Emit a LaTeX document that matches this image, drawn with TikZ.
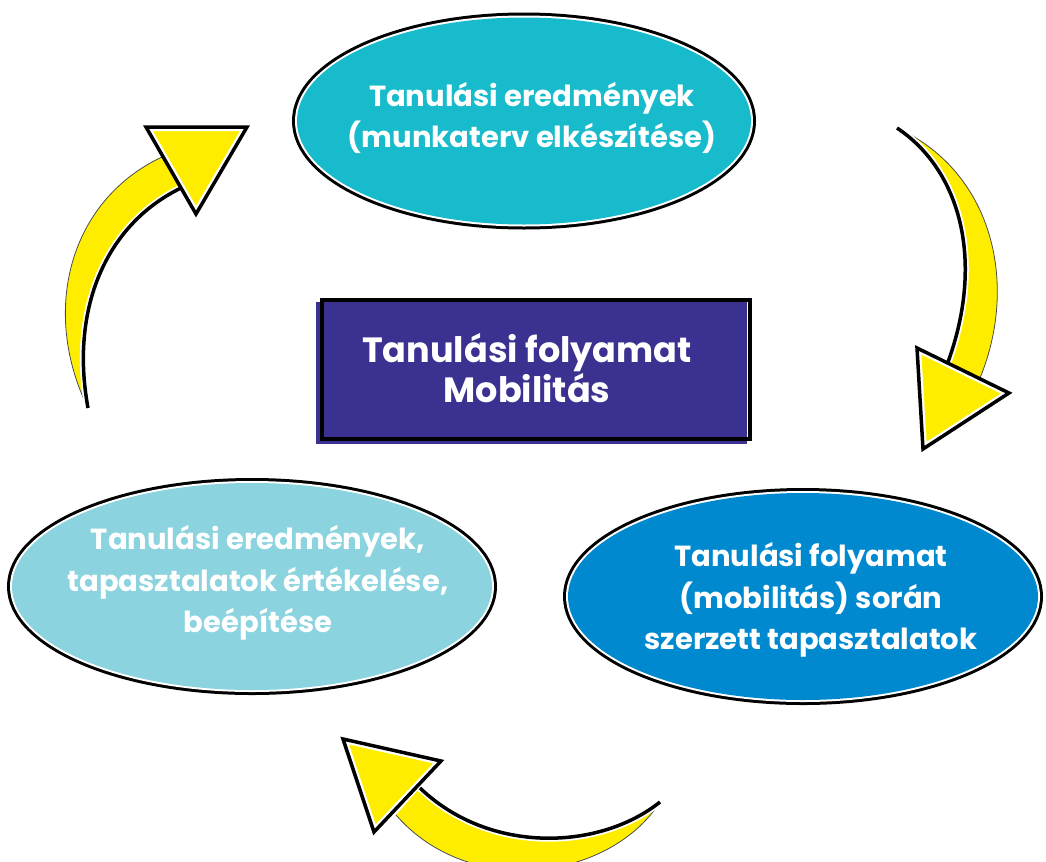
\documentclass[tikz,border=0pt]{standalone}
\usepackage{fontspec}
\setmainfont{Poppins}
\usetikzlibrary{shapes.geometric}
\definecolor{topc}{HTML}{17BBCB}
\definecolor{leftc}{HTML}{8BD3DE}
\definecolor{rightc}{HTML}{0089CF}
\definecolor{boxc}{HTML}{3A3191}
\definecolor{arry}{HTML}{FFED00}
\newcommand\yhead[3]{%
  \fill[arry] (#1) -- (#2) -- (#3) -- cycle;
  \begin{scope}\clip (#1) -- (#2) -- (#3) -- cycle;
  \draw[white, line width=8*0.75pt] (#1) -- (#2) -- (#3) -- cycle;\end{scope}
  \draw[black, line width=3.5*0.75pt, line join=miter] (#1) -- (#2) -- (#3) -- cycle;}
\newcommand\yshaft[7]{%
  \fill[arry] (#1) .. controls (#2) and (#3) .. (#4) -- (#5) .. controls (#6) and (#7) .. (#1) -- cycle;
  \draw[black!70, line width=0.8*0.75pt] (#1) .. controls (#2) and (#3) .. (#4);
  \draw[white, line width=7*0.75pt] (#5) .. controls (#6) and (#7) .. (#1);
  \draw[black, line width=3.5*0.75pt] (#5) .. controls (#6) and (#7) .. (#1);}
\begin{document}
\begin{tikzpicture}[x=0.75pt,y=-0.75pt,
  bubble/.style={ellipse, inner sep=0pt,
    preaction={draw=black, line width=10*0.75pt},
    preaction={draw=white, line width=4*0.75pt}},
  txt/.style={text=white, align=center, font=\bfseries\fontsize{21.8}{31}\selectfont, inner sep=0pt},
  boxtxt/.style={text=white, align=center, font=\bfseries\fontsize{26.3}{26.25}\selectfont, inner sep=0pt}]
\useasboundingbox (0,0) rectangle (1046,861);

% ellipses
\node[bubble, fill=topc, minimum width=454*0.75pt, minimum height=207*0.75pt] (topb) at (524,121) {};
\node[bubble, fill=leftc, minimum width=480*0.75pt, minimum height=207*0.75pt] (leftb) at (252,586.5) {};
\node[bubble, fill=rightc, minimum width=470*0.75pt, minimum height=207*0.75pt] (rightb) at (803,596.5) {};

\node[txt] (toplbl) at (532,118) {Tanulási eredmények\\(munkaterv elkészítése)};
\node[txt] (leftlbl) at (258,583) {Tanulási eredmények,\\tapasztalatok értékelése,\\beépítése};
\node[txt] (rightlbl) at (811,600) {Tanulási folyamat\\(mobilitás) során\\szerzett tapasztalatok};

% central box
\node[fill=boxc, minimum width=431*0.75pt, minimum height=142*0.75pt, inner sep=0pt] (box) at (531.5,373) {};
\node[draw=black, line width=3.5*0.75pt, minimum width=428*0.75pt, minimum height=139*0.75pt, inner sep=0pt] (frame) at (536,369.5) {};
\node[boxtxt] (boxlbl) at (527,368) {Tanulási folyamat\\Mobilitás};

% right arrow
\coordinate (ra) at (897,128);
\yshaft{ra}{990,170}{1020,280}{980,378}{948,362}{985,260}{960,170}
\yhead{917,348}{1009,393}{923,449}

% top-left arrow
\coordinate (la) at (88,408);
\yshaft{la}{40,310}{70,200}{162,157}{181,188}{105,225}{70,310}
\yhead{146,127}{247,127}{196,214}

% bottom arrow
\begin{scope}
\clip (0,0) rectangle (1046,861);
\coordinate (ba) at (660,802);
\yshaft{ba}{610,880}{470,900}{396,815}{420,788}{490,855}{600,850}
\yhead{343,739}{441,761}{374,832}
\end{scope}
\end{tikzpicture}
\end{document}
